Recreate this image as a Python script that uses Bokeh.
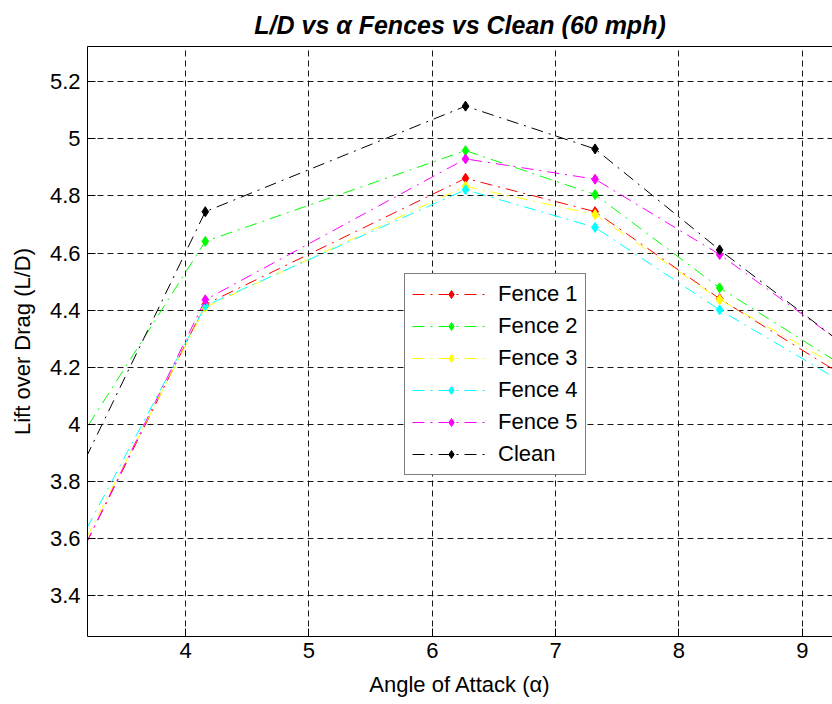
from bokeh.plotting import figure
from bokeh.models import Range1d, FixedTicker, LinearAxis, Legend, LegendItem
from bokeh.embed import file_html
from bokeh.resources import INLINE

# ---- data ----
alpha_deg = [3.10, 4.16, 6.27, 7.32, 8.33, 9.40]
fence1 = [3.50, 4.420, 4.862, 4.745, 4.440, 4.152]
fence2 = [3.92, 4.641, 4.959, 4.805, 4.478, 4.186]
fence3 = [3.52, 4.410, 4.834, 4.735, 4.437, 4.176]
fence4 = [3.555, 4.415, 4.822, 4.690, 4.401, 4.128]
fence5 = [3.50, 4.436, 4.930, 4.859, 4.595, 4.260]
clean = [3.80, 4.745, 5.115, 4.965, 4.611, 4.258]

series_names = ["Fence 1", "Fence 2", "Fence 3", "Fence 4", "Fence 5", "Clean"]
series_values = [fence1, fence2, fence3, fence4, fence5, clean]
series_colors = ["#ff0000", "#00ff00", "#ffff00", "#00ffff", "#ff00ff", "#000000"]

x_ticks = [4, 5, 6, 7, 8, 9]
y_ticks = [3.4, 3.6, 3.8, 4.0, 4.2, 4.4, 4.6, 4.8, 5.0, 5.2]
y_tick_labels = ["3.4", "3.6", "3.8", "4", "4.2", "4.4", "4.6", "4.8", "5", "5.2"]

FONT = "Liberation Sans"

p = figure(width=832, height=704,
           x_range=Range1d(3.205, 9.245), y_range=Range1d(3.256, 5.324),
           output_backend="svg", toolbar_location=None,
           min_border_left=87, min_border_right=0,
           min_border_top=46, min_border_bottom=68,
           title="L/D vs \u03b1 Fences vs Clean (60 mph)")
p.outline_line_color = None
p.background_fill_color = "white"
p.border_fill_color = "white"

p.title.text_font = FONT
p.title.text_font_size = "25px"
p.title.text_font_style = "bold italic"
p.title.align = "center"
p.title.text_color = "black"
p.title.standoff = 15

xt = FixedTicker(ticks=x_ticks)
yt = FixedTicker(ticks=y_ticks)

for ax in (p.xaxis[0], p.yaxis[0]):
    ax.major_tick_in = 8
    ax.major_tick_out = 0
    ax.minor_tick_line_color = None
    ax.axis_line_color = "black"
    ax.major_tick_line_color = "black"
    ax.major_label_text_font = FONT
    ax.major_label_text_font_size = "22px"
    ax.major_label_text_color = "black"
    ax.axis_label_text_font = FONT
    ax.axis_label_text_font_size = "22px"
    ax.axis_label_text_font_style = "normal"
    ax.axis_label_text_color = "black"

p.xaxis[0].ticker = xt
p.yaxis[0].ticker = yt
p.yaxis[0].major_label_overrides = {v: s for v, s in zip(y_ticks, y_tick_labels)}
p.xaxis[0].axis_label = "Angle of Attack (\u03b1)"
p.yaxis[0].axis_label = "Lift over Drag (L/D)"
p.xaxis[0].major_label_standoff = 6
p.xaxis[0].axis_label_standoff = 11
p.yaxis[0].major_label_standoff = 7
p.yaxis[0].axis_label_standoff = 12

# top frame edge (axis line only)
top_axis = LinearAxis(ticker=FixedTicker(ticks=[]), major_tick_in=0, major_tick_out=0,
                      minor_tick_line_color=None, axis_line_color="black")
p.add_layout(top_axis, "above")

for g, t in ((p.xgrid[0], xt), (p.ygrid[0], yt)):
    g.ticker = t
    g.grid_line_color = "black"
    g.grid_line_dash = "6 4"
    g.grid_line_width = 1
    g.grid_line_alpha = 0.9

items = []
for name, ys, color in zip(series_names, series_values, series_colors):
    rl = p.line(alpha_deg, ys, line_color=color, line_width=1, line_dash="12 6 2 6")
    rs = p.scatter(alpha_deg, ys, marker="diamond", size=10,
                   fill_color=color, line_color=color)
    items.append(LegendItem(label=name, renderers=[rl, rs]))

legend = Legend(items=items, location=(317, 161))
legend.label_text_font = FONT
legend.label_text_font_size = "22px"
legend.label_text_color = "black"
legend.border_line_color = "black"
legend.border_line_width = 1
legend.background_fill_color = "white"
legend.background_fill_alpha = 1
legend.padding = 7
legend.spacing = 6
legend.margin = 0
legend.glyph_width = 78
legend.glyph_height = 20
legend.label_height = 20
legend.label_standoff = 8
p.add_layout(legend)

open("out.html", "w").write(file_html(p, INLINE))
